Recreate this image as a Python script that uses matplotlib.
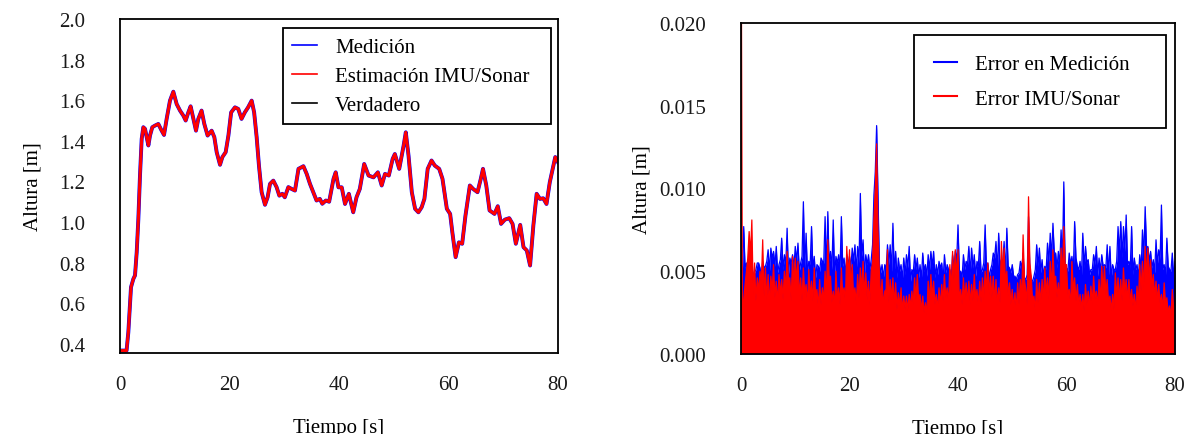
import numpy as np
import matplotlib
matplotlib.use("Agg")
import matplotlib.pyplot as plt

# ---------------- data ----------------
# Altitude trajectory (time [s], height [m])
tiempo_alt = [0.0, 1.2, 1.52, 2.01, 2.44, 2.74, 3.05, 3.35, 3.65, 3.96, 4.26, 4.57, 4.87,
              5.18, 5.48, 5.9, 6.39, 7.0, 7.61, 8.04, 8.52, 9.13, 9.74, 10.35, 10.96,
              11.57, 12.0, 12.48, 12.9, 13.4, 13.88, 14.3, 14.9, 15.4, 16.0, 16.74,
              17.23, 17.66, 18.27, 18.7, 19.3, 19.8, 20.3, 21.0, 21.6, 22.2, 22.8,
              23.4, 24.05, 24.5, 24.96, 25.38, 25.87, 26.48, 26.96, 27.4, 28.0, 28.6,
              29.1, 29.65, 30.1, 30.75, 31.35, 31.96, 32.6, 33.5, 34.1, 34.7, 35.3,
              35.9, 36.5, 36.95, 37.6, 38.2, 39.0, 39.4, 39.9, 40.5, 41.1, 41.8, 42.6,
              43.2, 43.8, 44.6, 45.4, 46.3, 47.1, 47.8, 48.4, 49.1, 49.8, 50.2, 51.0,
              51.8, 52.2, 52.7, 53.3, 53.9, 54.5, 55.1, 55.6, 56.2, 56.9, 57.5, 58.3,
              58.9, 59.7, 60.3, 60.7, 61.3, 61.9, 62.5, 63.1, 63.9, 64.5, 65.3, 65.9,
              66.3, 66.9, 67.5, 68.4, 69.0, 69.6, 70.3, 71.1, 71.7, 72.3, 73.1, 73.7,
              74.3, 74.9, 75.5, 76.1, 76.7, 77.3, 77.9, 78.5, 79.1, 79.5, 80.0]
altura_verdadera = [0.367, 0.367, 0.457, 0.679, 0.720, 0.737, 0.851, 1.015, 1.228, 1.409,
                    1.467, 1.459, 1.418, 1.377, 1.426, 1.467, 1.475, 1.483, 1.450, 1.429,
                    1.508, 1.598, 1.642, 1.581, 1.549, 1.524, 1.500, 1.540, 1.570, 1.508,
                    1.450, 1.508, 1.549, 1.483, 1.426, 1.450, 1.418, 1.344, 1.282, 1.320,
                    1.344, 1.426, 1.540, 1.565, 1.557, 1.508, 1.540, 1.565, 1.598, 1.540,
                    1.418, 1.278, 1.147, 1.085, 1.122, 1.188, 1.204, 1.172, 1.130, 1.139,
                    1.122, 1.172, 1.163, 1.155, 1.262, 1.275, 1.237, 1.188, 1.147, 1.106,
                    1.114, 1.090, 1.106, 1.100, 1.213, 1.245, 1.171, 1.171, 1.089, 1.139,
                    1.048, 1.122, 1.163, 1.286, 1.229, 1.220, 1.245, 1.180, 1.237, 1.229,
                    1.311, 1.335, 1.262, 1.376, 1.442, 1.327, 1.147, 1.065, 1.048, 1.073,
                    1.114, 1.262, 1.303, 1.278, 1.262, 1.213, 1.065, 1.040, 0.950, 0.827,
                    0.900, 0.893, 1.032, 1.180, 1.163, 1.147, 1.213, 1.262, 1.180, 1.057,
                    1.040, 1.078, 0.991, 1.012, 1.019, 0.991, 0.893, 0.986, 0.876, 0.860,
                    0.786, 0.983, 1.139, 1.114, 1.117, 1.089, 1.196, 1.270, 1.320, 1.295]
altura_medicion = list(altura_verdadera)
altura_estimacion = list(altura_verdadera)

# Absolute errors in millimetres: local maxima at t = 0, 0.5, 1.0, ... s
# and the values between them at t = 0.25, 0.75, ... s
error_medicion_picos = [
    4.5, 7.7, 5.5, 5.0, 5.3, 4.9, 5.5, 5.2, 5.6, 5.3,
    6.3, 6.4, 6.2, 6.5, 5.4, 7.0, 6.0, 7.6, 5.8, 6.0,
    6.5, 6.7, 5.5, 9.2, 7.3, 5.6, 7.7, 5.9, 5.4, 5.0,
    5.6, 8.3, 8.6, 6.2, 8.1, 5.9, 6.0, 8.3, 5.8, 6.0,
    5.9, 6.4, 6.6, 6.5, 9.7, 6.9, 6.0, 6.0, 5.7, 9.6,
    13.8, 5.5, 5.4, 5.4, 6.6, 6.6, 7.9, 6.2, 5.8, 5.4,
    5.8, 6.0, 6.5, 5.1, 6.0, 5.8, 5.4, 6.1, 5.4, 6.0,
    6.2, 6.2, 5.4, 5.6, 5.5, 6.0, 5.4, 5.1, 6.0, 6.2,
    7.8, 5.0, 6.0, 5.6, 6.5, 6.4, 6.0, 5.6, 6.8, 5.1,
    7.8, 5.5, 5.1, 6.1, 6.8, 7.3, 5.7, 6.8, 7.6, 5.2,
    5.4, 4.7, 4.8, 5.6, 6.1, 4.5, 8.3, 4.5, 4.7, 6.6,
    6.4, 5.7, 5.3, 6.7, 7.3, 7.9, 6.1, 6.2, 7.5, 10.4,
    5.2, 6.1, 5.9, 8.0, 5.3, 5.6, 7.3, 6.5, 5.7, 5.1,
    6.0, 6.5, 5.8, 6.0, 5.4, 6.6, 6.5, 5.4, 5.1, 7.7,
    8.0, 7.7, 8.4, 5.6, 7.7, 5.8, 5.4, 6.0, 7.5, 8.9,
    6.5, 6.2, 5.7, 6.9, 6.3, 9.0, 5.4, 7.0, 5.1, 6.1,
    5.6]
error_medicion_valles = [
    4.9, 5.2, 4.5, 5.4, 4.8, 5.1, 5.5, 4.7, 5.2, 5.6, 5.0, 5.8, 5.3, 4.9, 5.7, 5.1, 5.4, 4.8, 5.5, 5.2,
    5.6, 5.0, 5.9, 5.2, 4.8, 5.4, 5.1, 4.6, 5.3, 5.8, 5.5, 4.9, 5.4, 5.1, 4.7, 5.5, 5.0, 5.3, 4.8, 5.4,
    5.2, 5.6, 5.0, 5.5, 5.9, 4.8, 5.4, 5.1, 6.6, 11.0, 9.5, 4.9, 4.6, 5.1, 5.4, 5.0, 4.9, 4.6, 5.0, 4.5,
    4.8, 5.2, 4.4, 4.9, 5.1, 4.6, 4.5, 5.0, 4.7, 5.1, 5.3, 4.6, 4.8, 5.2, 4.4, 4.9, 5.1, 4.6, 5.2, 5.6,
    5.0, 4.6, 5.1, 5.4, 4.8, 5.2, 4.7, 5.3, 4.9, 5.5, 5.1, 4.6, 5.4, 5.8, 5.0, 5.2, 5.6, 4.8, 5.3, 4.9,
    4.7, 4.5, 4.9, 5.2, 4.6, 4.8, 5.0, 4.4, 5.1, 5.3, 4.9, 4.7, 5.1, 5.5, 5.8, 6.1, 5.2, 5.4, 5.6, 5.2,
    5.0, 5.4, 4.9, 5.8, 5.1, 4.6, 5.2, 5.5, 4.8, 5.1, 5.4, 4.7, 5.0, 5.3, 5.2, 4.8, 4.6, 5.1, 5.6, 6.1,
    5.8, 6.2, 5.4, 5.2, 4.8, 5.1, 4.6, 5.0, 5.8, 6.4, 5.6, 5.2, 4.9, 5.4, 5.7, 5.1, 4.8, 5.3, 5.0, 4.6]
error_imu_picos = [
    30.0, 3.3, 5.0, 7.4, 8.1, 5.5, 4.6, 5.0, 6.9, 5.2,
    4.8, 4.7, 5.4, 4.4, 4.8, 4.5, 5.0, 6.2, 4.6, 5.9,
    5.8, 5.6, 4.6, 5.2, 4.2, 5.1, 4.4, 5.2, 3.9, 4.5,
    4.0, 5.0, 6.9, 4.7, 3.8, 5.0, 4.0, 5.2, 4.0, 6.5,
    6.3, 5.4, 4.0, 4.8, 5.2, 5.6, 4.9, 4.4, 5.0, 8.1,
    12.7, 5.0, 4.5, 3.8, 6.3, 4.5, 4.6, 4.3, 3.7, 4.0,
    3.5, 3.5, 3.6, 3.8, 4.6, 4.8, 3.6, 3.5, 3.1, 4.4,
    4.8, 4.4, 3.6, 4.0, 4.2, 4.8, 4.0, 5.4, 6.2, 6.3,
    6.3, 3.9, 4.6, 4.3, 4.4, 4.2, 4.8, 3.9, 4.4, 4.6,
    5.0, 5.5, 4.7, 4.7, 4.5, 4.0, 6.8, 6.4, 5.0, 4.3,
    3.9, 3.7, 4.3, 4.5, 7.2, 3.9, 9.5, 4.7, 3.5, 4.5,
    4.3, 4.5, 5.2, 4.6, 5.6, 6.3, 4.7, 4.3, 6.4, 7.7,
    5.4, 3.9, 5.6, 4.6, 4.2, 3.6, 3.6, 4.2, 3.8, 4.1,
    4.7, 3.8, 4.5, 5.3, 5.3, 4.5, 3.5, 3.6, 4.9, 4.6,
    4.5, 5.2, 4.5, 4.5, 3.9, 3.6, 4.1, 5.4, 5.6, 6.5,
    6.4, 5.7, 4.8, 4.4, 4.2, 3.6, 4.3, 3.4, 2.9, 3.9,
    2.9]
error_imu_valles = [
    3.0, 4.2, 5.8, 6.0, 3.6, 3.2, 3.8, 4.2, 3.5, 3.3, 3.0, 3.8, 3.4, 3.1, 3.6, 3.3, 3.9, 4.5, 3.2, 4.2,
    4.4, 3.5, 3.2, 3.6, 3.0, 3.4, 3.2, 3.6, 2.8, 3.0, 3.2, 3.5, 4.6, 3.1, 2.9, 3.3, 3.0, 3.6, 3.1, 4.6,
    4.0, 3.5, 3.0, 3.4, 3.8, 3.6, 3.3, 3.0, 5.5, 10.0, 7.5, 3.2, 2.9, 3.9, 3.1, 3.3, 3.0, 2.7, 2.9, 2.6,
    2.7, 2.6, 2.8, 3.0, 3.3, 3.2, 2.6, 2.5, 2.4, 3.1, 3.4, 3.0, 2.7, 2.9, 3.2, 3.4, 3.0, 3.8, 4.5, 4.6,
    3.2, 3.0, 3.3, 3.1, 3.0, 3.2, 3.4, 2.9, 3.1, 3.3, 3.8, 3.6, 3.4, 3.2, 3.0, 3.1, 4.8, 4.4, 3.5, 3.0,
    2.8, 2.7, 3.0, 3.2, 4.5, 3.0, 5.5, 3.2, 2.6, 3.1, 3.0, 3.2, 3.6, 3.3, 4.0, 4.5, 3.4, 3.1, 4.6, 5.4,
    3.6, 2.9, 3.8, 3.2, 3.0, 2.7, 2.6, 3.0, 2.8, 3.0, 3.3, 2.9, 3.2, 3.8, 3.6, 3.1, 2.6, 2.7, 3.4, 3.3,
    3.2, 3.7, 3.2, 3.1, 2.9, 2.6, 3.0, 3.8, 4.0, 4.6, 4.5, 4.0, 3.5, 3.2, 3.0, 2.7, 3.1, 2.5, 2.2, 2.8]


def intercalar(picos, valles):
    """Merge maxima and in-between values into one 0.25 s series (metres)."""
    valores = []
    for i, p in enumerate(picos):
        valores.append(p)
        if i < len(valles):
            valores.append(valles[i])
    t = 0.25 * np.arange(len(valores))
    return t, np.asarray(valores) / 1000.0


# ---------------- styling ----------------
plt.rcParams['font.family'] = ['Liberation Serif', 'DejaVu Serif']
plt.rcParams['font.size'] = 15

fig = plt.figure(figsize=(11.84, 4.35), dpi=100)
ax1 = fig.add_axes([120 / 1184, 1 - 354 / 435, 438 / 1184, 334 / 435])
ax2 = fig.add_axes([741 / 1184, 1 - 355 / 435, 434 / 1184, 331 / 435])

# ---------------- left: altitude ----------------
l_med, = ax1.plot(tiempo_alt, altura_medicion, color='blue', lw=2.8, label='Medición', zorder=2)
l_est, = ax1.plot(tiempo_alt, altura_estimacion, color='red', lw=2.2, label='Estimación IMU/Sonar', zorder=3)
l_ver, = ax1.plot(tiempo_alt, altura_verdadera, color='black', lw=1.0, label='Verdadero', zorder=1)
ax1.set_xlim(0, 80)
ax1.set_ylim(0.355, 2.0)
ax1.set_xticks([0, 20, 40, 60, 80])
ax1.set_yticks([0.4, 0.6, 0.8, 1.0, 1.2, 1.4, 1.6, 1.8, 2.0])
ax1.set_yticklabels(['0.4', '0.6', '0.8', '1.0', '1.2', '1.4', '1.6', '1.8', '2.0'])
ax1.set_xlabel('Tiempo [s]')
ax1.set_ylabel('Altura [m]')

# ---------------- right: errors ----------------
t_med, err_med = intercalar(error_medicion_picos, error_medicion_valles)
t_imu, err_imu = intercalar(error_imu_picos, error_imu_valles)
ax2.fill_between(t_med, 0, err_med, color='blue', lw=0.0, zorder=2)
ax2.plot(t_med, err_med, color='blue', lw=0.9, zorder=2)
ax2.fill_between(t_imu, 0, err_imu, color='red', lw=0.0, zorder=3)
ax2.plot(t_imu, err_imu, color='red', lw=0.9, zorder=3)
h_med, = ax2.plot([], [], color='blue', lw=1.5, label='Error en Medición')
h_imu, = ax2.plot([], [], color='red', lw=1.5, label='Error IMU/Sonar')
ax2.set_xlim(0, 80)
ax2.set_ylim(0, 0.02)
ax2.set_xticks([0, 20, 40, 60, 80])
ax2.set_yticks([0.0, 0.005, 0.010, 0.015, 0.020])
ax2.set_yticklabels(['0.000', '0.005', '0.010', '0.015', '0.020'])
ax2.set_xlabel('Tiempo [s]')
ax2.set_ylabel('Altura [m]')

for ax in (ax1, ax2):
    for sp in ax.spines.values():
        sp.set_color('black')
        sp.set_linewidth(1.3)
        sp.set_zorder(5)
    ax.tick_params(axis='both', length=0, labelsize=15, colors='#1a1a1a')
    ax.tick_params(axis='x', pad=16)
    ax.tick_params(axis='y', pad=25)

ax1.xaxis.set_label_coords(0.5, -0.196)
ax2.xaxis.set_label_coords(0.5, -0.197)
ax1.yaxis.set_label_coords(-0.178, 0.5)
ax2.yaxis.set_label_coords(-0.206, 0.5)

leg1 = ax1.legend(handles=[l_med, l_est, l_ver], loc='upper left', mode='expand',
                  bbox_to_anchor=(0.372, 0.973, 0.612, 0.0), fancybox=False, framealpha=1,
                  edgecolor='black', borderpad=0.45, labelspacing=0.45,
                  handlelength=1.2, handletextpad=0.85, borderaxespad=0.0, fontsize=15)
leg1.get_frame().set_linewidth(1.3)
for h in leg1.get_lines():
    h.set_linewidth(1.2)

leg2 = ax2.legend(handles=[h_med, h_imu], loc='upper left', mode='expand',
                  bbox_to_anchor=(0.3986, 0.9637, 0.5804, 0.0), fancybox=False, framealpha=1,
                  edgecolor='black', borderpad=0.95, labelspacing=0.7,
                  handlelength=1.1, handletextpad=0.9, borderaxespad=0.0, fontsize=15)
leg2.get_frame().set_linewidth(1.3)
leg2.set_zorder(6)

fig.savefig('out.png', dpi=100)
